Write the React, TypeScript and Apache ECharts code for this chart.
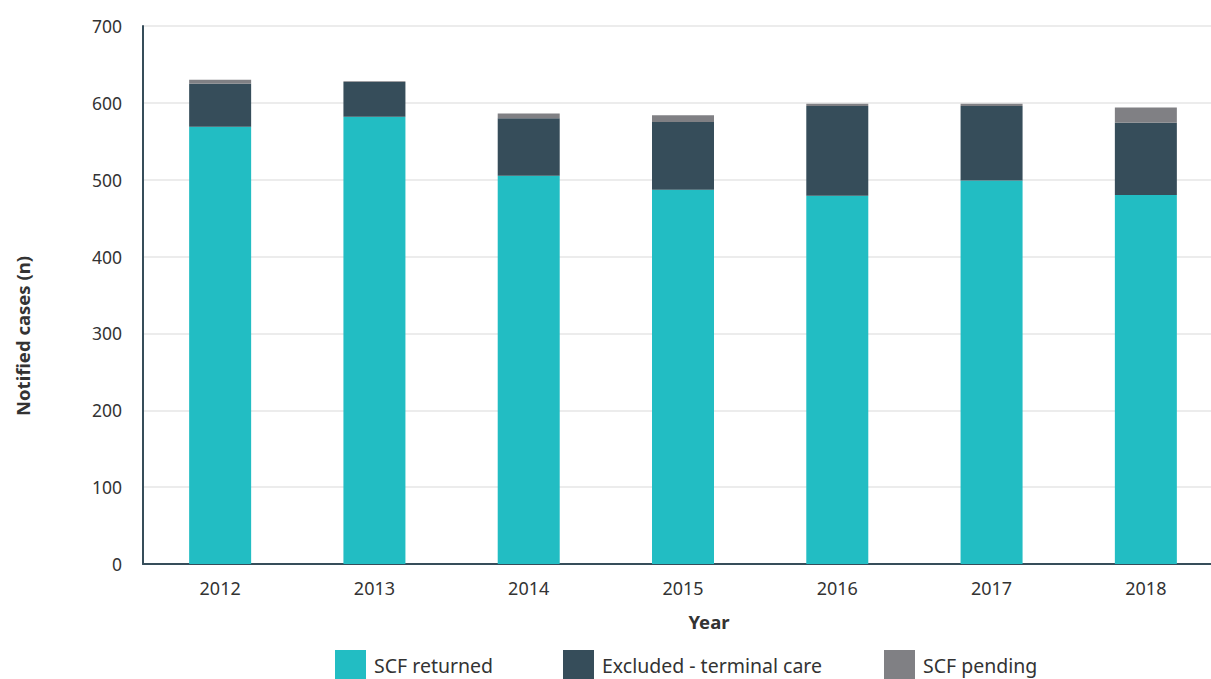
import React, { useEffect, useRef } from "react";
import * as echarts from "echarts";

const years = ["2012", "2013", "2014", "2015", "2016", "2017", "2018"];
const scfReturned = [569, 582, 505, 487, 479, 499, 480];
const excludedTerminal = [56, 45, 75, 88, 117, 97, 94];
const scfPending = [5, 1, 6, 9, 3, 3, 20];

const seriesNames = ["SCF returned", "Excluded - terminal care", "SCF pending"];
const seriesColors = ["#22BDC3", "#364D5A", "#808084"];
const legendLefts = [335, 563, 884];

const FONT = "'Noto Sans', sans-serif";

export default function App() {
  const ref = useRef<HTMLDivElement>(null);

  useEffect(() => {
    if (!ref.current) return;
    const chart = echarts.init(ref.current, null, { renderer: "svg" });
    const values = [scfReturned, excludedTerminal, scfPending];
    chart.setOption({
      animation: false,
      backgroundColor: "#ffffff",
      textStyle: { fontFamily: FONT },
      grid: { left: 143, top: 26, bottom: 115, right: 1, containLabel: false },
      legend: seriesNames.map((n, i) => ({
        data: [n],
        left: legendLefts[i],
        top: 650,
        itemWidth: 31,
        itemHeight: 31,
        icon: "rect",
        padding: 0,
        textStyle: {
          fontFamily: FONT,
          fontSize: 19.5,
          color: "#333333",
          padding: [6, 0, 0, 3],
        },
      })),
      xAxis: {
        type: "category",
        data: years,
        axisLine: { lineStyle: { color: "#364D5A", width: 2 } },
        axisTick: { show: false },
        axisLabel: { fontFamily: FONT, fontSize: 18, color: "#333333", margin: 15 },
      },
      yAxis: {
        type: "value",
        min: 0,
        max: 700,
        interval: 100,
        axisLine: { show: true, lineStyle: { color: "#364D5A", width: 2 } },
        axisTick: { show: false },
        splitLine: { lineStyle: { color: "#e6e6e6", width: 1.5 } },
        axisLabel: { fontFamily: FONT, fontSize: 17.5, color: "#333333", margin: 21 },
      },
      graphic: [
        {
          type: "text",
          x: 22,
          y: 336,
          rotation: Math.PI / 2,
          style: {
            text: "Notified cases (n)",
            fontFamily: FONT,
            fontSize: 18.5,
            fontWeight: "bold",
            fill: "#333333",
            textAlign: "center",
            textVerticalAlign: "middle",
          },
        },
        {
          type: "text",
          x: 709,
          y: 621,
          style: {
            text: "Year",
            fontFamily: FONT,
            fontSize: 18.5,
            fontWeight: "bold",
            fill: "#333333",
            textAlign: "center",
            textVerticalAlign: "middle",
          },
        },
      ],
      series: seriesNames.map((n, i) => ({
        name: n,
        type: "bar",
        stack: "total",
        barWidth: 62,
        data: values[i],
        itemStyle: { color: seriesColors[i] },
      })),
    });
    return () => chart.dispose();
  }, []);

  return (
    <div
      ref={ref}
      style={{ position: "fixed", left: 0, top: 0, width: 1224, height: 679 }}
    />
  );
}
